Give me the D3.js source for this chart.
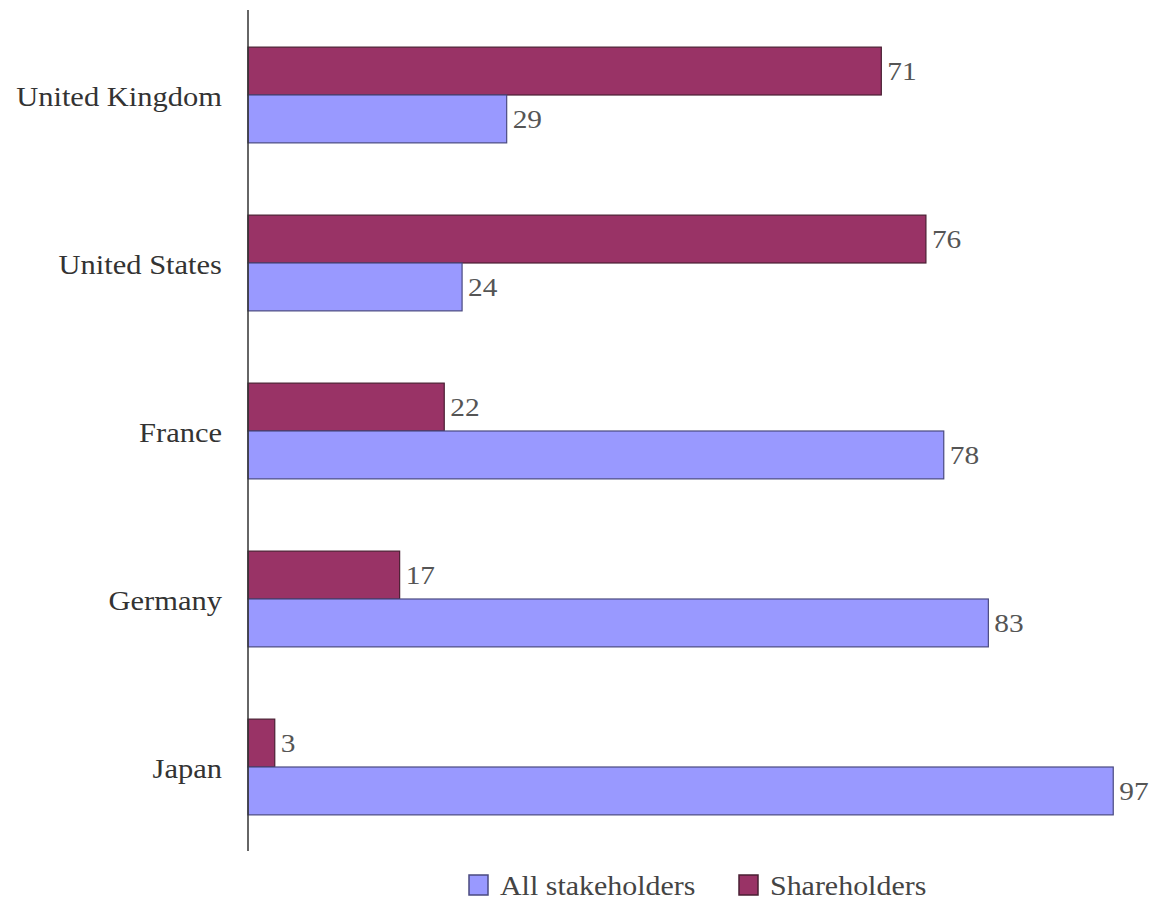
<!DOCTYPE html>
<html>
<head>
<meta charset="utf-8">
<script src="https://cdn.jsdelivr.net/npm/d3@7"></script>
<style>
body { margin: 0; background: #fff; }
</style>
</head>
<body>
<script>
// categories and values
var countries = ["United Kingdom", "United States", "France", "Germany", "Japan"];
var shareholders = [71, 76, 22, 17, 3];
var allStakeholders = [29, 24, 78, 83, 97];
var seriesNames = ["All stakeholders", "Shareholders"];

var width = 1158, height = 901;
var colors = {"Shareholders": "#993366", "All stakeholders": "#9999ff"};
var strokes = {"Shareholders": "#4a1f33", "All stakeholders": "#4a4a80"};
var serif = "'Liberation Serif', 'Times New Roman', serif";
var stretch = 1.13;   // the source text is a bit wide

var svg = d3.select("body").append("svg")
    .attr("width", width)
    .attr("height", height);

var x = d3.scaleLinear().domain([0, 100]).range([248, 1140]);

var y = d3.scaleBand().domain(countries).range([11, 851]).paddingInner(0.43).paddingOuter(0.215);

var inner = d3.scaleBand().domain(["Shareholders", "All stakeholders"]).range([0, y.bandwidth()]);

var rows = countries.map(function(c, i) {
    return {country: c, values: [
        {key: "Shareholders", v: shareholders[i]},
        {key: "All stakeholders", v: allStakeholders[i]}
    ]};
});

var g = svg.selectAll(".row")
    .data(rows)
    .enter().append("g")
    .attr("class", "row")
    .attr("transform", d => "translate(0," + y(d.country) + ")");

g.selectAll("rect")
    .data(d => d.values)
    .enter().append("rect")
    .attr("x", x(0))
    .attr("y", d => inner(d.key))
    .attr("width", d => x(d.v) - x(0))
    .attr("height", inner.bandwidth())
    .attr("fill", d => colors[d.key])
    .attr("stroke", d => strokes[d.key])
    .attr("stroke-width", 1.2);

g.selectAll(".value")
    .data(d => d.values)
    .enter().append("text")
    .attr("class", "value")
    .attr("transform", d => "translate(" + (x(d.v) + 6) + "," + (inner(d.key) + inner.bandwidth() / 2) + ") scale(" + stretch + ",1)")
    .attr("dy", "0.35em")
    .attr("font-family", serif)
    .attr("font-size", 26)
    .attr("fill", "#555")
    .text(d => d.v);

svg.selectAll(".label")
    .data(countries)
    .enter().append("text")
    .attr("class", "label")
    .attr("transform", d => "translate(222," + (y(d) + y.bandwidth() / 2 + 2) + ") scale(" + stretch + ",1)")
    .attr("dy", "0.35em")
    .attr("text-anchor", "end")
    .attr("font-family", serif)
    .attr("font-size", 27)
    .attr("fill", "#333")
    .text(d => d);

// axis line
svg.append("line")
    .attr("x1", x(0)).attr("x2", x(0))
    .attr("y1", 10).attr("y2", 851)
    .attr("stroke", "#333")
    .attr("stroke-width", 1.5);

// legend
var legend = svg.append("g").attr("class", "legend")
    .selectAll("g")
    .data(seriesNames)
    .enter().append("g")
    .attr("transform", (d, i) => "translate(" + [469, 739][i] + ",875)");

legend.append("rect")
    .attr("width", 19).attr("height", 20)
    .attr("fill", d => colors[d])
    .attr("stroke", d => strokes[d])
    .attr("stroke-width", 1.5);

legend.append("text")
    .attr("transform", "translate(31,11) scale(" + stretch + ",1)")
    .attr("dy", "0.35em")
    .attr("font-family", serif)
    .attr("font-size", 26.5)
    .attr("fill", "#444")
    .text(d => d);
</script>
</body>
</html>
